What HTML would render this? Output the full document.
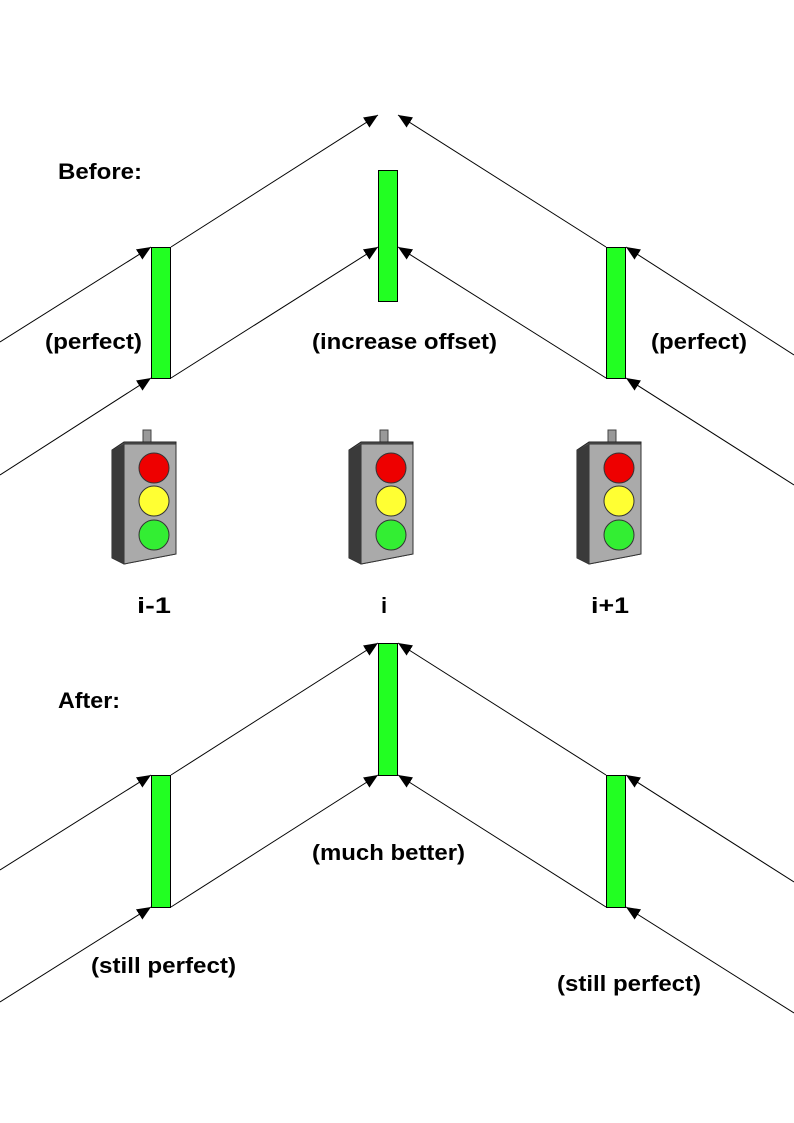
<!DOCTYPE html>
<html><head><style>
body{margin:0;background:#fff}
svg{display:block}
text{font-family:"Liberation Sans",Arial,sans-serif;font-weight:bold;font-size:22px;fill:#000}
</style></head><body>
<svg width="794" height="1123" viewBox="0 0 794 1123" xmlns="http://www.w3.org/2000/svg">
<defs>
<marker id="a" markerWidth="14" markerHeight="12" refX="14" refY="6" orient="auto" markerUnits="userSpaceOnUse">
<path d="M0,0 L14,6 L0,12 z" fill="#000"/></marker>
<g id="tl">
<rect x="33" y="0" width="8" height="14" fill="#999" stroke="#444" stroke-width="1"/>
<path d="M2,20 L14,12 L66,12 L66,124 L14,134 L2,128 z" fill="#555" stroke="#222"/>
<path d="M14,14 L66,14 L66,124 L14,134 z" fill="#aaa" stroke="#333"/>
<path d="M2,20 L14,14 L14,134 L2,128 z" fill="#3a3a3a"/>
<circle cx="44" cy="38" r="15" fill="#e00" stroke="#333"/>
<circle cx="44" cy="71" r="15" fill="#ff3" stroke="#333"/>
<circle cx="44" cy="105" r="15" fill="#3e3" stroke="#333"/>
</g>
</defs>
<g stroke="#000" stroke-width="1" marker-end="url(#a)">
<line x1="0" y1="342" x2="151" y2="247"/>
<line x1="0" y1="475" x2="151" y2="378"/>
<line x1="171" y1="247" x2="378" y2="115"/>
<line x1="171" y1="378" x2="378" y2="247"/>
<line x1="606" y1="247" x2="398" y2="115"/>
<line x1="606" y1="378" x2="398" y2="247"/>
<line x1="794" y1="355" x2="626" y2="247"/>
<line x1="794" y1="485" x2="626" y2="378"/>
<line x1="0" y1="870" x2="151" y2="775"/>
<line x1="0" y1="1002" x2="151" y2="907"/>
<line x1="171" y1="775" x2="378" y2="643"/>
<line x1="171" y1="907" x2="378" y2="775"/>
<line x1="606" y1="775" x2="398" y2="643"/>
<line x1="606" y1="907" x2="398" y2="775"/>
<line x1="794" y1="882" x2="626" y2="775"/>
<line x1="794" y1="1013" x2="626" y2="907"/>
</g>
<g fill="#22ff22" stroke="#000" stroke-width="1">
<rect x="151.5" y="247.5" width="19" height="131"/>
<rect x="378.5" y="170.5" width="19" height="131"/>
<rect x="606.5" y="247.5" width="19" height="131"/>
<rect x="151.5" y="775.5" width="19" height="132"/>
<rect x="378.5" y="643.5" width="19" height="132"/>
<rect x="606.5" y="775.5" width="19" height="132"/>
</g>
<use href="#tl" x="110" y="430"/>
<use href="#tl" x="347" y="430"/>
<use href="#tl" x="575" y="430"/>
<text x="58" y="179" textLength="84" lengthAdjust="spacingAndGlyphs">Before:</text>
<text x="45" y="349" textLength="97" lengthAdjust="spacingAndGlyphs">(perfect)</text>
<text x="312" y="349" textLength="185" lengthAdjust="spacingAndGlyphs">(increase offset)</text>
<text x="651" y="349" textLength="96" lengthAdjust="spacingAndGlyphs">(perfect)</text>
<text x="137" y="613" textLength="34" lengthAdjust="spacingAndGlyphs">i-1</text>
<text x="381" y="613">i</text>
<text x="591" y="613" textLength="38" lengthAdjust="spacingAndGlyphs">i+1</text>
<text x="58" y="708" textLength="62" lengthAdjust="spacingAndGlyphs">After:</text>
<text x="312" y="860" textLength="153" lengthAdjust="spacingAndGlyphs">(much better)</text>
<text x="91" y="973" textLength="145" lengthAdjust="spacingAndGlyphs">(still perfect)</text>
<text x="557" y="991" textLength="144" lengthAdjust="spacingAndGlyphs">(still perfect)</text>
</svg>
</body></html>
